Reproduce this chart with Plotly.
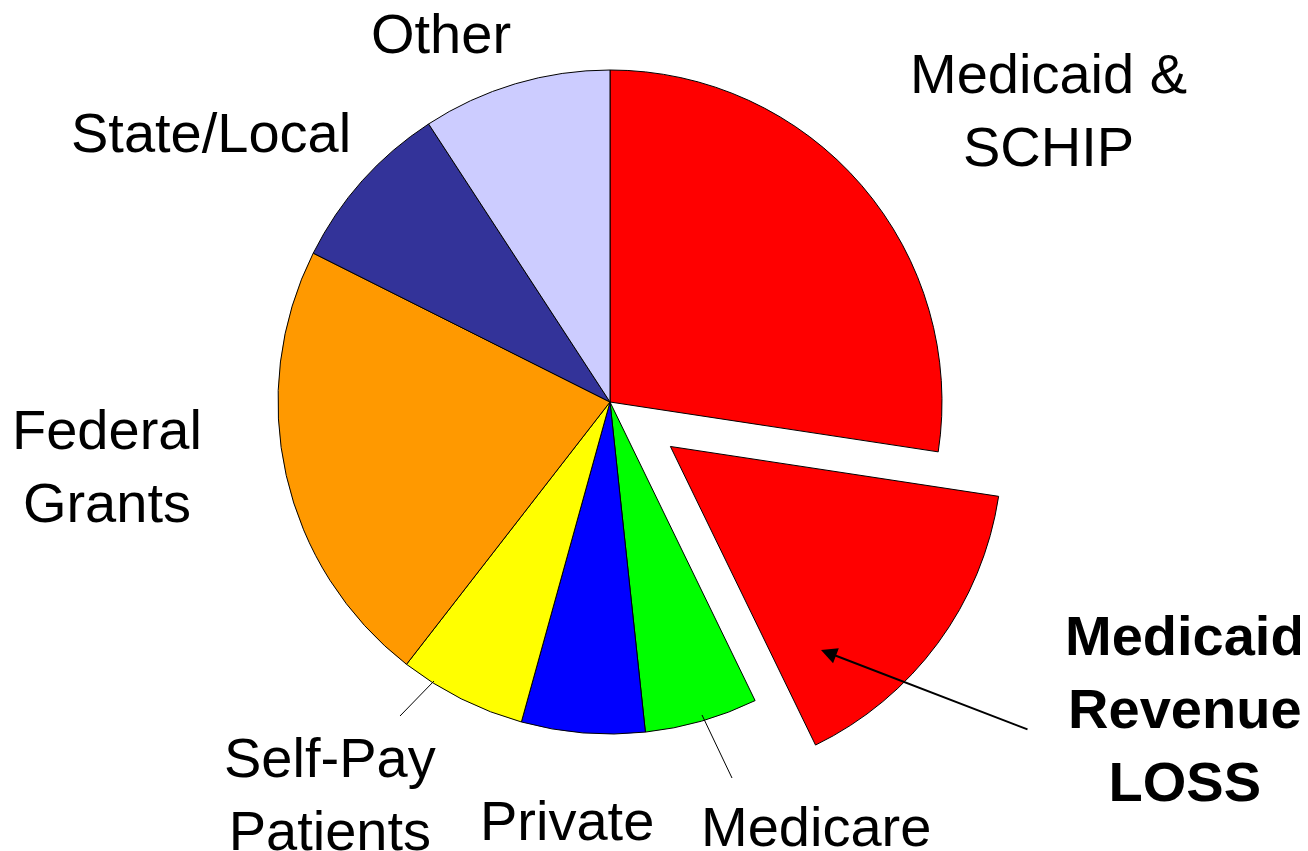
import math
import plotly.graph_objects as go

# page body has an 8px margin; figure drawn at (8, 8)
OFF = 8
W, H = 1300, 843

categories = ["Medicaid & SCHIP", "Medicaid Revenue LOSS", "Medicare", "Private",
              "Self-Pay Patients", "Federal Grants", "State/Local", "Other"]
values = [27.4, 15.4, 5.5, 6.0, 6.2, 21.9, 8.4, 9.2]
colors = ["#FF0000", "#FF0000", "#00FF00", "#0000FF", "#FFFF00", "#FF9900", "#333399", "#CCCCFF"]
exploded = [False, True, False, False, False, False, False, False]

label_texts = ["Other", "State/Local", "Medicaid &<br>SCHIP", "Federal<br>Grants",
               "Self-Pay<br>Patients", "Private", "Medicare",
               "<b>Medicaid<br>Revenue<br>LOSS</b>"]
label_pos = [(441, 33), (211, 133), (1048, 110), (107, 466),
             (330, 794), (567, 820), (816, 826), (1185, 708)]


def px(x):
    return (x - OFF) / W


def py(y):
    return 1 - (y - OFF) / H


cx, cy, R = 610, 402, 332
pull_px = 75
clear = "rgba(0,0,0,0)"

# bisector angle of exploded slice (clockwise from 12 o'clock)
tot = sum(values)
i_ex = exploded.index(True)
start = sum(values[:i_ex]) / tot * 360
mid = math.radians(start + values[i_ex] / tot * 360 / 2)
ecx = cx + pull_px * math.sin(mid)
ecy = cy - pull_px * math.cos(mid)


def dom(x0, y0):
    return dict(x=[px(x0 - R), px(x0 + R)], y=[py(y0 + R), py(y0 - R)])


fig = go.Figure()
fig.add_trace(go.Pie(
    labels=categories, values=values, sort=False, direction="clockwise",
    rotation=0, textinfo="none", hoverinfo="label+percent",
    marker=dict(colors=[clear if e else c for c, e in zip(colors, exploded)],
                line=dict(color="black", width=[0 if e else 1 for e in exploded])),
    domain=dom(cx, cy), showlegend=False,
))
fig.add_trace(go.Pie(
    labels=categories, values=values, sort=False, direction="clockwise",
    rotation=0, textinfo="none", hoverinfo="skip",
    marker=dict(colors=[c if e else clear for c, e in zip(colors, exploded)],
                line=dict(color="black", width=[1 if e else 0 for e in exploded])),
    domain=dom(ecx, ecy), showlegend=False,
))

font = dict(family="Liberation Sans, Arial, sans-serif", size=56, color="black")
annotations = []
for t, (x, y) in zip(label_texts, label_pos):
    annotations.append(dict(text=t, x=px(x), y=py(y), xref="paper", yref="paper",
                            xanchor="center", yanchor="middle", showarrow=False,
                            font=font, align="center"))

# arrow to loss slice
annotations.append(dict(text="", x=px(821), y=py(650), xref="paper", yref="paper",
                        ax=1029 - 821, ay=730 - 650, axref="pixel", ayref="pixel",
                        showarrow=True, arrowhead=2, arrowsize=1.6, arrowwidth=2,
                        arrowcolor="black"))

shapes = [
    dict(type="line", xref="paper", yref="paper", x0=px(400), y0=py(716),
         x1=px(434), y1=py(681), line=dict(color="black", width=1)),
    dict(type="line", xref="paper", yref="paper", x0=px(702), y0=py(715),
         x1=px(732), y1=py(778), line=dict(color="black", width=1)),
]

fig.update_layout(width=W, height=H, margin=dict(l=0, r=0, t=0, b=0),
                  paper_bgcolor="white", plot_bgcolor="white",
                  annotations=annotations, shapes=shapes)

fig.write_html("out.html")
